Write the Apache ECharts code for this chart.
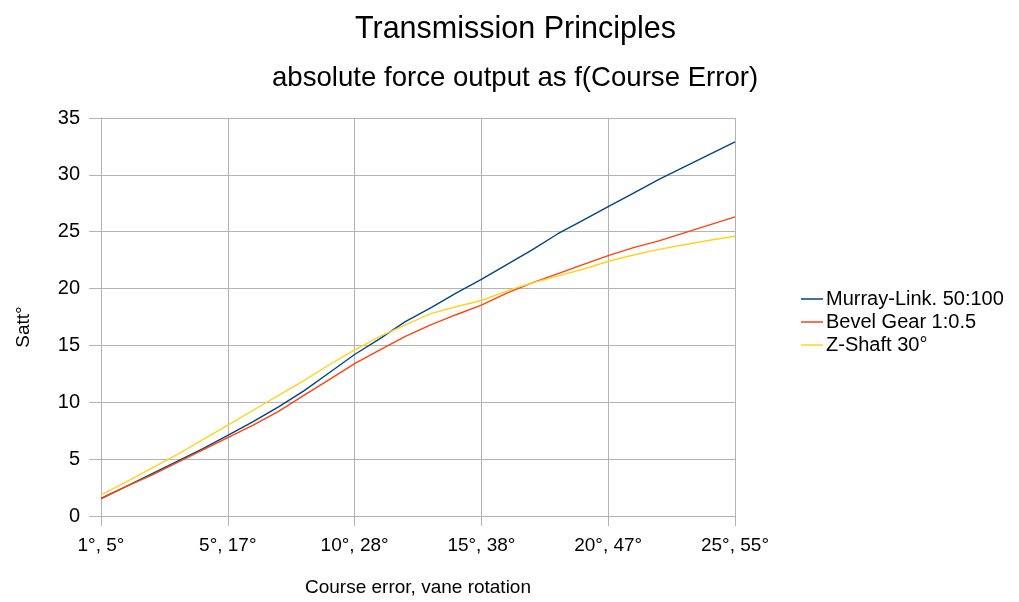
<!DOCTYPE html>
<html>
<head>
<meta charset="utf-8">
<script src="https://cdn.jsdelivr.net/npm/echarts@6/dist/echarts.min.js"></script>
<style>
html,body{margin:0;padding:0;background:#fff;}
#chart{width:1019px;height:602px;}
</style>
</head>
<body>
<div id="chart"></div>
<script>
// Category positions along the x axis (26 steps); labelled ones carry the tick text
const categories = [
  '1°, 5°', 'p1', 'p2', 'p3', 'p4',
  '5°, 17°', 'p6', 'p7', 'p8', 'p9',
  '10°, 28°', 'p11', 'p12', 'p13', 'p14',
  '15°, 38°', 'p16', 'p17', 'p18', 'p19',
  '20°, 47°', 'p21', 'p22', 'p23', 'p24',
  '25°, 55°'
];
const yTicks = [0, 5, 10, 15, 20, 25, 30, 35];
const seriesNames = ['Murray-Link. 50:100', 'Bevel Gear 1:0.5', 'Z-Shaft 30°'];
const murrayLink = [1.55, 2.6, 3.7, 4.8, 5.9, 7.1, 8.3, 9.6, 11.0, 12.6, 14.2, 15.6, 17.1, 18.3, 19.6, 20.8, 22.1, 23.4, 24.8, 26.0, 27.2, 28.4, 29.6, 30.7, 31.8, 32.9];
const bevelGear  = [1.5, 2.6, 3.6, 4.7, 5.8, 6.9, 8.0, 9.2, 10.6, 12.0, 13.4, 14.6, 15.8, 16.8, 17.7, 18.55, 19.6, 20.5, 21.3, 22.1, 22.9, 23.6, 24.2, 24.9, 25.6, 26.3];
const zShaft     = [1.85, 3.0, 4.2, 5.4, 6.7, 8.0, 9.3, 10.6, 11.9, 13.3, 14.6, 15.8, 16.8, 17.8, 18.4, 18.95, 19.8, 20.5, 21.1, 21.7, 22.4, 22.95, 23.45, 23.85, 24.25, 24.6];

const colors = ['#004586', '#ff420e', '#ffd320'];
const FONT = '"Liberation Sans", Arial, sans-serif';
const gridColor = '#b3b3b3';

const chart = echarts.init(document.getElementById('chart'), null, {renderer: 'canvas'});
chart.setOption({
  animation: false,
  backgroundColor: '#ffffff',
  title: [
    {text: 'Transmission Principles', left: 350, top: 9,
     textStyle: {fontFamily: FONT, fontSize: 30.5, fontWeight: 'normal', color: '#000'}},
    {text: 'absolute force output as f(Course Error)', left: 267, top: 59,
     textStyle: {fontFamily: FONT, fontSize: 27.6, fontWeight: 'normal', color: '#000'}}
  ],
  legend: {
    orient: 'vertical',
    left: 796,
    top: 284,
    itemWidth: 22,
    itemHeight: 14,
    itemGap: 3,
    icon: 'path://M0,0 L22,0 L22,1.5 L0,1.5 Z',
    textStyle: {fontFamily: FONT, fontSize: 20, color: '#000', lineHeight: 19, padding: [0, 0, 0, -2]},
    data: seriesNames
  },
  grid: {left: 101, right: 284, top: 118, bottom: 86, containLabel: false},
  xAxis: {
    type: 'category',
    data: categories,
    boundaryGap: false,
    name: 'Course error, vane rotation',
    nameLocation: 'middle',
    nameGap: 62,
    nameTextStyle: {fontFamily: FONT, fontSize: 19, color: '#000'},
    axisLine: {lineStyle: {color: gridColor, width: 1}},
    axisTick: {show: true, interval: 4, length: 10, lineStyle: {color: gridColor}},
    axisLabel: {interval: 4, margin: 20, fontFamily: FONT, fontSize: 19, color: '#000'},
    splitLine: {show: true, interval: 4, lineStyle: {color: gridColor, width: 1}}
  },
  yAxis: {
    type: 'value',
    min: yTicks[0],
    max: yTicks[yTicks.length - 1],
    interval: 5,
    name: 'Satt°',
    nameLocation: 'middle',
    nameGap: 68,
    nameTextStyle: {fontFamily: FONT, fontSize: 19, color: '#000', padding: [0, 20, 0, 0]},
    axisLine: {show: true, lineStyle: {color: gridColor, width: 1}},
    axisTick: {show: true, length: 12, lineStyle: {color: gridColor}},
    axisLabel: {margin: 21, fontFamily: FONT, fontSize: 20, color: '#000'},
    splitLine: {show: true, lineStyle: {color: gridColor, width: 1}}
  },
  series: [
    {name: seriesNames[0], type: 'line', data: murrayLink, symbol: 'none', smooth: false,
     lineStyle: {color: colors[0], width: 1.4}, itemStyle: {color: colors[0]}},
    {name: seriesNames[1], type: 'line', data: bevelGear, symbol: 'none', smooth: false,
     lineStyle: {color: colors[1], width: 1.4}, itemStyle: {color: colors[1]}},
    {name: seriesNames[2], type: 'line', data: zShaft, symbol: 'none', smooth: false,
     lineStyle: {color: colors[2], width: 1.4}, itemStyle: {color: colors[2]}}
  ]
});
</script>
</body>
</html>
